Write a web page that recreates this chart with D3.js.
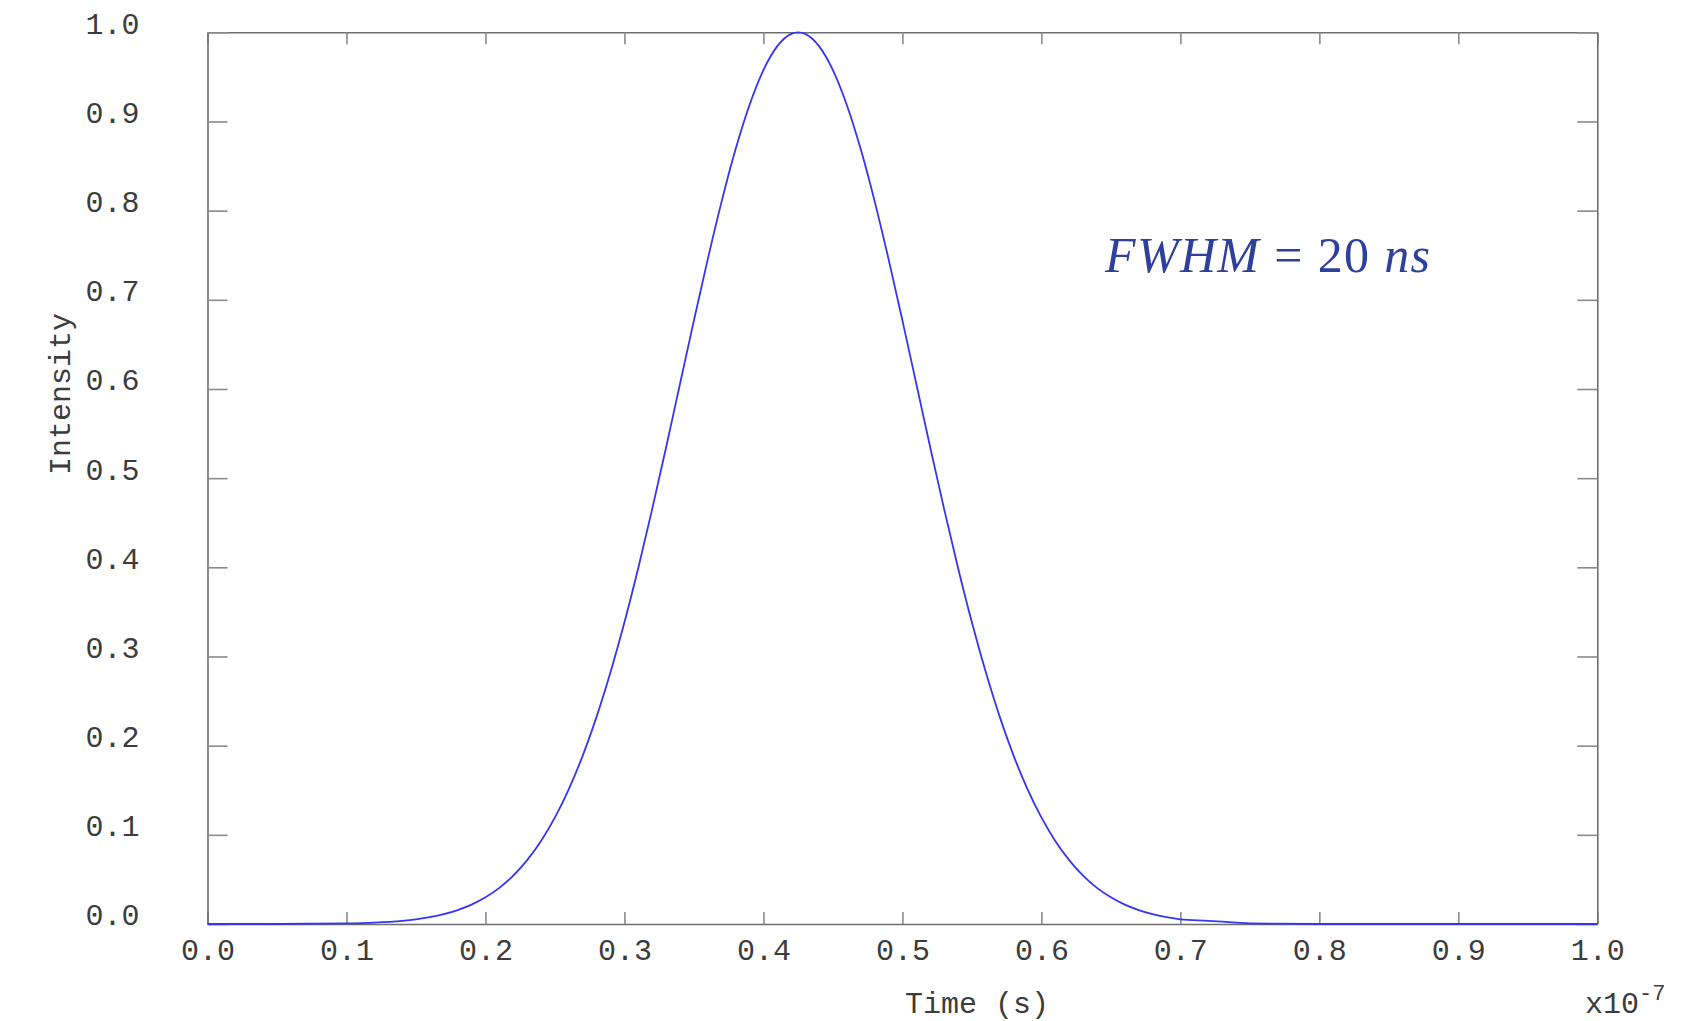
<!DOCTYPE html>
<html>
<head>
<meta charset="utf-8">
<script src="https://cdn.jsdelivr.net/npm/d3@7"></script>
<style>
  html, body { margin: 0; padding: 0; background: #fff; }
  svg { display: block; }
</style>
</head>
<body>
<svg id="chart" width="1705" height="1021"></svg>
<script>
// Time axis values (units of 1e-7 s)
const timeVals = [0.00, 0.05, 0.10, 0.12, 0.14, 0.15, 0.16, 0.17, 0.18, 0.19,
  0.20, 0.21, 0.22, 0.23, 0.24, 0.25, 0.26, 0.27, 0.28, 0.29,
  0.30, 0.31, 0.32, 0.33, 0.34, 0.35, 0.36, 0.37, 0.38, 0.39,
  0.40, 0.41, 0.42, 0.425, 0.43, 0.44, 0.45, 0.46, 0.47, 0.48, 0.49,
  0.50, 0.51, 0.52, 0.53, 0.54, 0.55, 0.56, 0.57, 0.58, 0.59,
  0.60, 0.61, 0.62, 0.63, 0.64, 0.65, 0.66, 0.67, 0.68, 0.69,
  0.70, 0.72, 0.74, 0.75, 0.80, 0.90, 1.00];
// Intensity
const intensityVals = [0.0000, 0.0000, 0.0007, 0.0016, 0.0036, 0.0053, 0.0077, 0.0110, 0.0156, 0.0217,
  0.0299, 0.0405, 0.0542, 0.0716, 0.0931, 0.1195, 0.1513, 0.1889, 0.2326, 0.2825,
  0.3383, 0.3996, 0.4655, 0.5347, 0.6059, 0.6769, 0.7459, 0.8107, 0.8690, 0.9185,
  0.9576, 0.9845, 0.9983, 1.0000, 0.9983, 0.9845, 0.9576, 0.9185, 0.8690, 0.8107, 0.7459,
  0.6769, 0.6059, 0.5347, 0.4655, 0.3996, 0.3383, 0.2825, 0.2326, 0.1889, 0.1513,
  0.1195, 0.0931, 0.0716, 0.0542, 0.0405, 0.0299, 0.0217, 0.0156, 0.0110, 0.0077,
  0.0053, 0.0036, 0.0016, 0.0007, 0.0000, 0.0000, 0.0000];
const xTicks = [0.0, 0.1, 0.2, 0.3, 0.4, 0.5, 0.6, 0.7, 0.8, 0.9, 1.0];
const yTicks = [0.0, 0.1, 0.2, 0.3, 0.4, 0.5, 0.6, 0.7, 0.8, 0.9, 1.0];
const xLabel = "Time (s)";
const yLabel = "Intensity";
const xExponent = "-7";
const annotation = [{t: "FWHM", italic: true}, {t: " = 20 ", italic: false}, {t: "ns", italic: true}];

const svg = d3.select("#chart");
const pL = 207.5, pR = 1597.3, pT = 32.3, pB = 924;

const x = d3.scaleLinear().domain([0, 1]).range([pL, pR]);
const y = d3.scaleLinear().domain([0, 1]).range([pB, pT]);

const mono = "'Liberation Mono', 'Courier New', monospace";
const axisColor = "#6e6e6e";
const textColor = "#3c3c3c";

function styleAxis(g) {
  g.select(".domain").attr("stroke", axisColor).attr("stroke-width", 1.6);
  g.selectAll(".tick line").attr("stroke", "#8a8a8a").attr("stroke-width", 1.6);
  g.selectAll(".tick text").attr("fill", textColor).style("font-family", mono).style("font-size", "30px");
}

// Bottom axis
svg.append("g").attr("transform", `translate(0,${pB})`)
  .call(d3.axisBottom(x).tickValues(xTicks).tickSizeInner(-12).tickSizeOuter(0).tickPadding(15)
    .tickFormat(d3.format(".1f")))
  .call(styleAxis);
// Top axis
svg.append("g").attr("transform", `translate(0,${pT})`)
  .call(d3.axisTop(x).tickValues(xTicks).tickSizeInner(-12).tickSizeOuter(0).tickFormat(""))
  .call(styleAxis);
// Left axis
const gl = svg.append("g").attr("transform", `translate(${pL},0)`)
  .call(d3.axisLeft(y).tickValues(yTicks).tickSizeInner(-20).tickSizeOuter(0).tickPadding(68)
    .tickFormat(d3.format(".1f")))
  .call(styleAxis);
gl.selectAll(".tick text").attr("dy", "0.03em");
// Right axis
svg.append("g").attr("transform", `translate(${pR},0)`)
  .call(d3.axisRight(y).tickValues(yTicks).tickSizeInner(-20).tickSizeOuter(0).tickFormat(""))
  .call(styleAxis);

// Curve
const pts = timeVals.map((t, i) => [t, intensityVals[i]]);
const lineGen = d3.line().x(d => x(d[0])).y(d => y(d[1])).curve(d3.curveMonotoneX);
svg.append("path").datum(pts)
  .attr("d", lineGen)
  .attr("fill", "none")
  .attr("stroke", "#3535f5")
  .attr("stroke-width", 1.8);

// Axis labels
svg.append("text")
  .attr("x", 977).attr("y", 1013)
  .attr("text-anchor", "middle")
  .attr("fill", textColor)
  .style("font-family", mono).style("font-size", "30px")
  .text(xLabel);

svg.append("text")
  .attr("transform", "translate(70,394) rotate(-90)")
  .attr("text-anchor", "middle")
  .attr("fill", textColor)
  .style("font-family", mono).style("font-size", "30px")
  .text(yLabel);

const ex = svg.append("text")
  .attr("x", 1585).attr("y", 1013)
  .attr("fill", textColor)
  .style("font-family", mono).style("font-size", "30px");
ex.append("tspan").text("x10");
ex.append("tspan").attr("dy", -13).style("font-size", "22px").text(xExponent);

// Annotation
const ann = svg.append("text")
  .attr("x", 1105).attr("y", 272)
  .attr("fill", "#2e3f9c")
  .attr("textLength", 325).attr("lengthAdjust", "spacing")
  .style("font-family", "'Liberation Serif', 'DejaVu Serif', serif")
  .style("font-size", "50px");
annotation.forEach(p => {
  ann.append("tspan").style("font-style", p.italic ? "italic" : "normal").text(p.t);
});
</script>
</body>
</html>
